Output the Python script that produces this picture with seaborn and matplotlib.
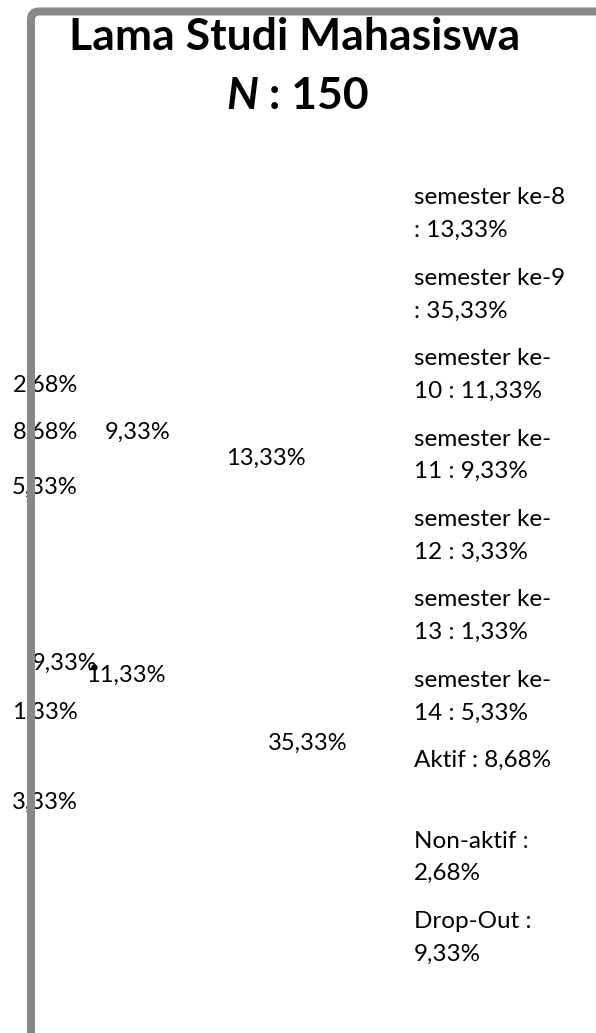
import re
import matplotlib
matplotlib.use('Agg')
import matplotlib.pyplot as plt
import matplotlib.patches as mpatches
from matplotlib.lines import Line2D
import seaborn as sns

# data
categories = ['semester ke-8', 'semester ke-9', 'semester ke-10', 'semester ke-11',
              'semester ke-12', 'semester ke-13', 'semester ke-14',
              'Aktif', 'Non-aktif', 'Drop-Out']
percentages = [13.33, 35.33, 11.33, 9.33, 3.33, 1.33, 5.33, 8.68, 2.68, 9.33]
title_line = 'Lama Studi Mahasiswa'
n_total = 150

# label centres in pixels (x from left, y from top), same order as data
label_pos = [(266, 458), (308, 743), (126, 675), (65, 663), (45, 802),
             (45, 712), (45, 487), (46, 432), (46, 385), (138, 432)]

W, H = 596, 1033
sns.set_theme(style='white')
plt.rcParams['font.family'] = ['Lato', 'DejaVu Sans']
plt.rcParams['text.color'] = 'black'

fig = plt.figure(figsize=(W / 100, H / 100), dpi=100)
fig.patch.set_facecolor('white')
tr = fig.dpi_scale_trans


def px(x, y):
    return x / 100, (H - y) / 100


def fmt(v):
    return f'{v:.2f}'.replace('.', ',') + '%'


def wrap(s, width=13):
    # break after spaces and hyphens, like the legend in the original
    tokens = re.split(r'(?<=[- ])', s)
    lines, cur = [], ''
    for t in tokens:
        if cur and len((cur + t).rstrip()) > width:
            lines.append(cur.rstrip())
            cur = t
        else:
            cur += t
    lines.append(cur.rstrip())
    return lines


# pie is drawn in white, only the labels are visible (as in the original)
ax = fig.add_axes([0.05, 0.25, 0.5, 0.5])
ax.pie(percentages, colors=['white'] * len(percentages), startangle=90,
       counterclock=False, wedgeprops=dict(linewidth=0))
ax.set_axis_off()

for v, (x, y) in zip(percentages, label_pos):
    fig.text(*px(x, y), fmt(v), transform=tr, ha='center', va='center',
             fontsize=17, color='black')

# small leader dot
fig.add_artist(Line2D([94 / 100], [(H - 667) / 100], marker='o', ms=3.5,
                      color='black', transform=tr))

# legend text (no markers)
leg_x, leg_y0, leg_step, line_step = 414, 198, 80.4, 32.5
for i, (cat, v) in enumerate(zip(categories, percentages)):
    for k, line in enumerate(wrap(f'{cat} : {fmt(v)}')):
        fig.text(*px(leg_x, leg_y0 + i * leg_step + k * line_step), line,
                 transform=tr, ha='left', va='center', fontsize=17.5, color='black')

# title
fig.text(*px(295, 37), title_line, transform=tr, ha='center', va='center',
         fontsize=32, fontweight='bold', color='black')
fig.text(*px(258, 96), 'N', transform=tr, ha='right', va='center',
         fontsize=32, fontweight='bold', fontstyle='italic', color='black')
fig.text(*px(258, 96), f' : {n_total}', transform=tr, ha='left', va='center',
         fontsize=32, fontweight='bold', color='black')

# grey chart border, cut off at right and bottom
frame = mpatches.FancyBboxPatch((0.31, -1.0), 10, (H - 11.5) / 100 + 1.0,
                                boxstyle='round,pad=0,rounding_size=0.08',
                                fill=False, edgecolor='#888888', linewidth=5.8,
                                transform=tr, zorder=10)
fig.add_artist(frame)

fig.savefig('out.png', dpi=100, facecolor='white')
